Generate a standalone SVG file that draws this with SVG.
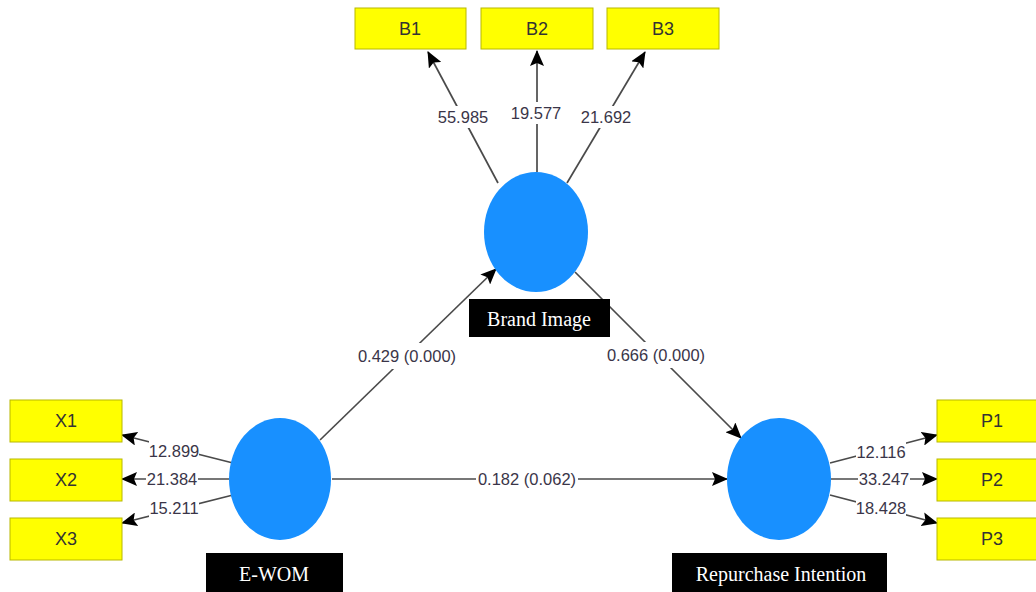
<svg xmlns="http://www.w3.org/2000/svg" width="1036" height="592" viewBox="0 0 1036 592">
  <style>
    .ind rect { fill: #ffff00; stroke: #b8b800; stroke-width: 1; }
    .ind text { font-family: "Liberation Sans", Arial, sans-serif; font-size: 18px; fill: #333; text-anchor: middle; dominant-baseline: central; }
    .lv ellipse { fill: #1890ff; }
    .tag rect { fill: #000; }
    .tag text { font-family: "Liberation Serif", "Times New Roman", serif; font-size: 20px; fill: #fff; text-anchor: middle; dominant-baseline: central; }
    .edge line { stroke: #4a4a4a; stroke-width: 1.7; marker-end: url(#arrow); }
    .lbl rect { fill: #fff; }
    .lbl text { font-family: "Liberation Sans", Arial, sans-serif; font-size: 16.5px; fill: #3a3548; text-anchor: middle; dominant-baseline: central; }
  </style>
  <defs>
    <!-- solid black arrowhead at the target end of each path -->
    <marker id="arrow" markerUnits="userSpaceOnUse" markerWidth="16" markerHeight="14" refX="15" refY="7" orient="auto">
      <path d="M0,0 L16,7 L0,14 L3,7 Z" fill="#000"/>
    </marker>
  </defs>
  <rect width="1036" height="592" fill="#fff"/>

  <g id="connectors" class="edge">
    <line x1="498" y1="183" x2="428" y2="52"/>
    <line x1="537" y1="172" x2="537" y2="51"/>
    <line x1="567" y1="183" x2="645" y2="52"/>
    <line x1="233" y1="463" x2="122" y2="435"/>
    <line x1="229" y1="479" x2="122" y2="479"/>
    <line x1="233" y1="495" x2="122" y2="523"/>
    <line x1="830" y1="463" x2="937" y2="435"/>
    <line x1="831" y1="479" x2="937" y2="479"/>
    <line x1="830" y1="495" x2="937" y2="523"/>
    <line x1="320" y1="440" x2="496" y2="269"/>
    <line x1="575" y1="272" x2="741" y2="438"/>
    <line x1="332" y1="479" x2="727" y2="479"/>
  </g>

  <g id="labels" class="lbl">
    <rect x="437" y="106" width="52" height="22"/><text x="463" y="117">55.985</text>
    <rect x="510" y="102" width="52" height="22"/><text x="536" y="113">19.577</text>
    <rect x="580" y="106" width="52" height="22"/><text x="606" y="117">21.692</text>
    <rect x="149" y="441" width="50" height="20"/><text x="174" y="451">12.899</text>
    <rect x="146" y="470" width="52" height="18"/><text x="172" y="479">21.384</text>
    <rect x="149" y="498" width="50" height="20"/><text x="174" y="508">15.211</text>
    <rect x="856" y="442" width="50" height="20"/><text x="881" y="452">12.116</text>
    <rect x="858" y="470" width="52" height="18"/><text x="884" y="479">33.247</text>
    <rect x="856" y="498" width="50" height="20"/><text x="881" y="508">18.428</text>
    <rect x="357" y="343" width="100" height="26"/><text x="407" y="356">0.429 (0.000)</text>
    <rect x="606" y="342" width="100" height="26"/><text x="656" y="355">0.666 (0.000)</text>
    <rect x="476" y="468" width="102" height="22"/><text x="527" y="479">0.182 (0.062)</text>
  </g>

  <g id="B1" class="ind"><rect x="355" y="8" width="111" height="41"/><text x="410" y="29">B1</text></g>
  <g id="B2" class="ind"><rect x="481" y="8" width="112" height="41"/><text x="537" y="29">B2</text></g>
  <g id="B3" class="ind"><rect x="607" y="8" width="112" height="41"/><text x="663" y="29">B3</text></g>
  <g id="X1" class="ind"><rect x="10" y="400" width="112" height="42"/><text x="66" y="421">X1</text></g>
  <g id="X2" class="ind"><rect x="10" y="459" width="112" height="42"/><text x="66" y="480">X2</text></g>
  <g id="X3" class="ind"><rect x="10" y="518" width="112" height="42"/><text x="66" y="539">X3</text></g>
  <g id="P1" class="ind"><rect x="937" y="400" width="112" height="42"/><text x="992" y="421">P1</text></g>
  <g id="P2" class="ind"><rect x="937" y="459" width="112" height="42"/><text x="992" y="480">P2</text></g>
  <g id="P3" class="ind"><rect x="937" y="518" width="112" height="42"/><text x="992" y="539">P3</text></g>

  <g id="brand-image">
    <g class="lv"><ellipse cx="536" cy="232" rx="52" ry="60"/></g>
    <g class="tag"><rect x="469" y="299" width="141" height="38"/><text x="539" y="319">Brand Image</text></g>
  </g>
  <g id="e-wom">
    <g class="lv"><ellipse cx="280" cy="479" rx="51" ry="61"/></g>
    <g class="tag"><rect x="206" y="553" width="137" height="40"/><text x="274" y="574">E-WOM</text></g>
  </g>
  <g id="repurchase-intention">
    <g class="lv"><ellipse cx="779" cy="479" rx="52" ry="61"/></g>
    <g class="tag"><rect x="672" y="553" width="215" height="40"/><text x="781" y="574">Repurchase Intention</text></g>
  </g>
</svg>
